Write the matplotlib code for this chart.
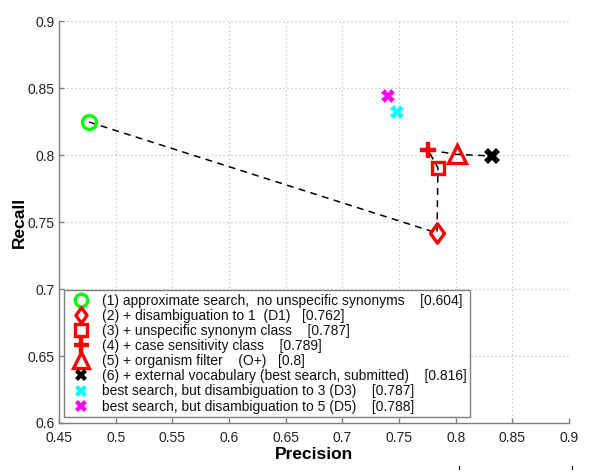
import matplotlib
matplotlib.use("Agg")
import matplotlib.pyplot as plt
from matplotlib.path import Path
from matplotlib.lines import Line2D

plt.rcParams['font.family'] = ['Liberation Sans', 'DejaVu Sans']

# ---- data ----
labels = [
    "(1) approximate search,  no unspecific synonyms    [0.604]",
    "(2) + disambiguation to 1  (D1)   [0.762]",
    "(3) + unspecific synonym class    [0.787]",
    "(4) + case sensitivity class    [0.789]",
    "(5) + organism filter    (O+)   [0.8]",
    "(6) + external vocabulary (best search, submitted)    [0.816]",
    "best search, but disambiguation to 3 (D3)    [0.787]",
    "best search, but disambiguation to 5 (D5)    [0.788]",
]
precision = [0.4765, 0.7835, 0.7844, 0.7756, 0.8010, 0.8320, 0.7480, 0.7400]
recall = [0.8246, 0.7418, 0.7903, 0.8037, 0.8005, 0.7993, 0.8320, 0.8440]
path_idx = [0, 1, 2, 3, 4, 5]   # steps connected by the dashed line

xticks = [0.45, 0.5, 0.55, 0.6, 0.65, 0.7, 0.75, 0.8, 0.85, 0.9]
yticks = [0.6, 0.65, 0.7, 0.75, 0.8, 0.85, 0.9]

# ---- styles ----
diamond = Path([(0, 1), (0.72, 0), (0, -1), (-0.72, 0), (0, 1)],
               [Path.MOVETO, Path.LINETO, Path.LINETO, Path.LINETO, Path.CLOSEPOLY])
styles = [
    dict(marker='o', color='#00ff00', ms=10, mew=2.4, mfc='none'),
    dict(marker=diamond, color='#ff0000', ms=14, mew=2.4, mfc='none'),
    dict(marker='s', color='#ff0000', ms=8.5, mew=2.4, mfc='none'),
    dict(marker='+', color='#ff0000', ms=12, mew=3.2),
    dict(marker='^', color='#ff0000', ms=13, mew=2.4, mfc='none'),
    dict(marker='X', color='#000000', ms=11, mew=0),
    dict(marker='X', color='#00ffff', ms=10, mew=0),
    dict(marker='X', color='#ff00ff', ms=10, mew=0),
]
legend_scale = [0.9, 0.8, 0.95, 0.9, 0.85, 0.75, 0.8, 0.8]

fig = plt.figure(figsize=(6.0, 4.74), dpi=100)
ax = fig.add_axes([59/600, 1-423/474, 510/600, 402/474])

ax.plot([precision[i] for i in path_idx], [recall[i] for i in path_idx],
        color='black', lw=1.1, dashes=(4.5, 3.5), zorder=2)

for x, y, lab, st in zip(precision, recall, labels, styles):
    ax.plot([x], [y], linestyle='none', label=lab, zorder=3, **st)

ax.set_xlim(0.45, 0.9)
ax.set_ylim(0.6, 0.9)
ax.set_xticks(xticks)
ax.set_yticks(yticks)
ax.set_xticklabels([f"{t:g}" for t in xticks])
ax.set_yticklabels([f"{t:g}" for t in yticks])

ax.grid(True, color='#a0a0a0', linestyle=(0, (0.8, 2.8)), linewidth=0.8)
ax.set_axisbelow(True)
for s in ['top', 'right']:
    ax.spines[s].set_visible(False)
for s in ['left', 'bottom']:
    ax.spines[s].set_color('#7f7f7f')
    ax.spines[s].set_linewidth(1.0)
ax.tick_params(direction='in', length=3.5, width=1.0, color='#7f7f7f',
               labelsize=10, labelcolor='#222222')
ax.tick_params(axis='x', pad=5.5)
ax.tick_params(axis='y', pad=3)

ax.set_xlabel('Precision', fontsize=12.5, fontweight='bold', labelpad=2)
ax.set_ylabel('Recall', fontsize=12.5, fontweight='bold', labelpad=1)

leg = ax.legend(loc='lower left', bbox_to_anchor=(5/510, 6/402), borderaxespad=0,
                fontsize=10, numpoints=1, fancybox=False, framealpha=1,
                edgecolor='#7f7f7f', borderpad=0.25, labelspacing=0.08,
                handlelength=2.0, handletextpad=0.45)
leg.get_frame().set_linewidth(1.0)
for t in leg.get_texts():
    t.set_color('#111111')
for h, st, sc in zip(leg.legend_handles, styles, legend_scale):
    h.set_markersize(st['ms'] * sc)

# small stray marks at the bottom edge of the image
for xp in (459, 572):
    fig.add_artist(Line2D([xp/600, xp/600], [1-466/474, 1-469/474],
                          color='black', lw=0.8, transform=fig.transFigure))

fig.savefig('out.png', dpi=100)
